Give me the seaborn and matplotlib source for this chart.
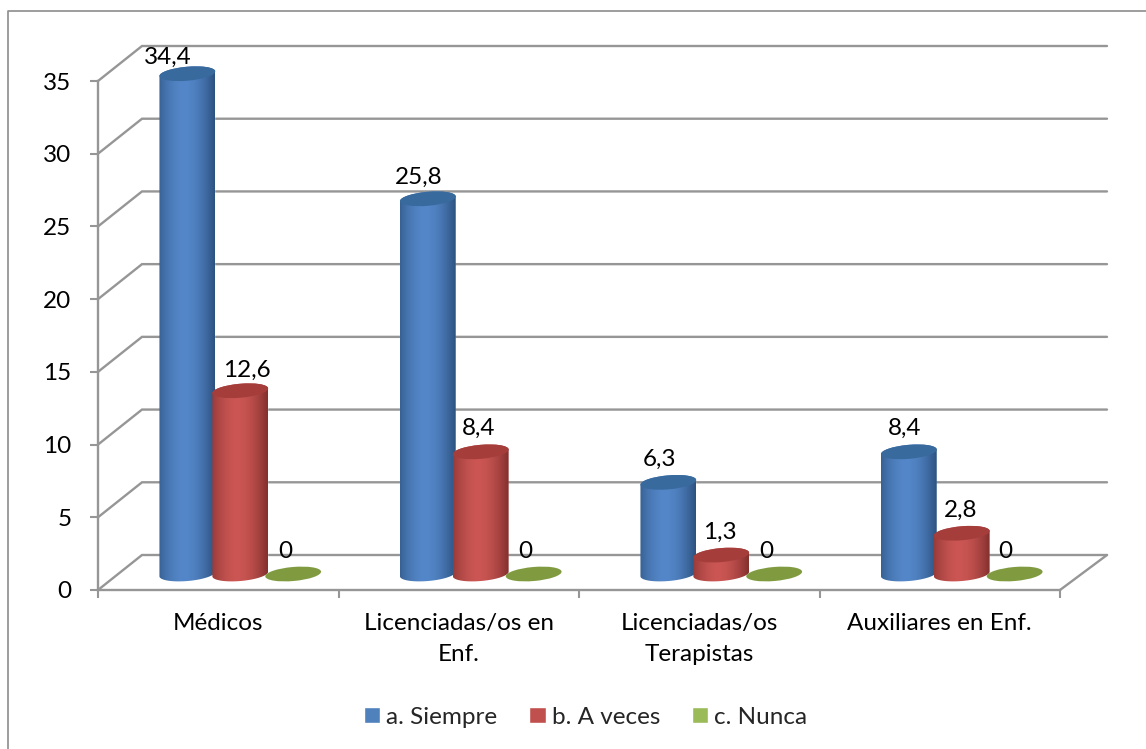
# Medical staff answers, 3D cylinder look built on a seaborn barplot

import numpy as np
import pandas as pd
import matplotlib.pyplot as plt
import seaborn as sns
from matplotlib.lines import Line2D
from matplotlib.patches import Ellipse
from matplotlib.path import Path
from matplotlib.transforms import Affine2D, IdentityTransform
from matplotlib.colors import to_rgb

categories = ["Médicos", "Licenciadas/os en\nEnf.", "Licenciadas/os\nTerapistas", "Auxiliares en Enf."]
series_names = ["a. Siempre", "b. A veces", "c. Nunca"]
siempre = [34.4, 25.8, 6.3, 8.4]
a_veces = [12.6, 8.4, 1.3, 2.8]
nunca = [0, 0, 0, 0]
y_ticks = [0, 5, 10, 15, 20, 25, 30, 35]

colors = ["#4F81BD", "#C0504D", "#9BBB59"]
edge_colors = ["#2C527F", "#82302E", "#7F9A3F"]
mid_colors = ["#5487C9", "#CB5653", "#7F9A3F"]
top_colors = ["#386A9E", "#A53E3B", "#7F9A3F"]
line_color = "#969696"

# pixel nudges for the data labels, (x, y) from the cylinder top
label_nudge = [
    [(-20, 16), (-9, 21), (-9, 23), (-4, 23)],
    [(7, 20), (-2, 23), (-1, 23), (-1, 23)],
    [(-8, 23), (-8, 23), (-8, 23), (-9, 23)],
]

sns.set_theme(style="white")
plt.rcParams["font.family"] = ["Lato", "DejaVu Sans"]

df = pd.DataFrame({
    "cat": categories * 3,
    "serie": np.repeat(series_names, 4),
    "valor": siempre + a_veces + nunca,
})

fig = plt.figure(figsize=(11.46, 7.49), dpi=100, facecolor="white")
ax = fig.add_axes([98 / 1146, (749 - 590) / 749, 962 / 1146, 509 / 749])

sns.barplot(data=df, x="cat", y="valor", hue="serie", order=categories, hue_order=series_names,
            palette=colors, width=0.66, gap=0, saturation=1, ax=ax, zorder=3)

ax.set_xlim(-0.5, 3.5)
ax.set_ylim(0, 35)
ax.set_autoscale_on(False)
ax.set_xlabel("")
ax.set_ylabel("")

# axes
for side in ["top", "right"]:
    ax.spines[side].set_visible(False)
for side in ["left", "bottom"]:
    ax.spines[side].set_color(line_color)
    ax.spines[side].set_linewidth(1.7)
ax.set_yticks(y_ticks)
ax.set_xticks([-0.5, 0.5, 1.5, 2.5, 3.5])
ax.set_xticklabels([])
ax.set_xticks([0, 1, 2, 3], categories, minor=True)
ax.tick_params(axis="x", which="major", length=5.5, width=1.5, color=line_color, bottom=True)
ax.tick_params(axis="x", which="minor", length=0, pad=16.5, labelsize=17.5, labelcolor="black")
ax.tick_params(axis="y", length=6, width=1.5, color=line_color, left=True, pad=13, labelsize=17.5, labelcolor="black")
for lab in ax.get_xticklabels(minor=True):
    lab.set_linespacing(1.6)

# back wall and depth lines
x0 = ax.transData.transform((-0.5, 0))[0]
x1 = ax.transData.transform((3.5, 0))[0]
for v in y_ticks:
    py = ax.transData.transform((0, v))[1]
    ax.plot([x0, x0 + 44, x1 + 47], [py, py + 35, py + 35], color=line_color, lw=1.7,
            transform=IdentityTransform(), clip_on=False, zorder=1, solid_joinstyle="miter")
py0 = ax.transData.transform((0, 0))[1]
ax.plot([x1, x1 + 47], [py0, py0 + 35], color=line_color, lw=1.7,
        transform=IdentityTransform(), clip_on=False, zorder=1)

# cylinders on top of the seaborn bars, moved back to the middle of the floor
lift = 16
shift = 22
half_w = 28
half_h = 7
tilt = 5
cos_t, sin_t = np.cos(np.radians(tilt)), np.sin(np.radians(tilt))


def arc(cx, cy, start, stop):
    t = np.radians(np.linspace(start, stop, 40))
    ex, ey = half_w * np.cos(t), half_h * np.sin(t)
    return np.column_stack([cx + ex * cos_t - ey * sin_t, cy + ex * sin_t + ey * cos_t])


for s, container in enumerate(ax.containers):
    edge = np.array(to_rgb(edge_colors[s]))
    mid = np.array(to_rgb(mid_colors[s]))
    for i, bar in enumerate(container):
        bar.set_transform(ax.transData + Affine2D().translate(shift, lift))
        bar.set_clip_on(False)
        val = bar.get_height()
        cx, ybase = ax.transData.transform((bar.get_x() + bar.get_width() / 2, 0))
        cx += shift
        ybase += lift
        ytop = ax.transData.transform((0, val))[1] + lift

        if val > 0:
            pos = np.abs(np.linspace(-1, 1, 120) + 0.1)
            mix = np.clip(pos / 1.1, 0, 1)[:, None] ** 1.8
            grad = (mid * (1 - mix) + edge * mix)[None, :, :]
            im = ax.imshow(grad, extent=(cx - half_w, cx + half_w, ybase - 11, ytop + 11), aspect="auto",
                           transform=IdentityTransform(), zorder=4 + s + i * 3)
            outline = np.vstack([arc(cx, ybase, 180, 360), arc(cx, ytop, 0, 180)])
            im.set_clip_box(fig.bbox)
            im.set_clip_path(Path(np.vstack([outline, outline[:1]]), closed=True), IdentityTransform())

        ax.add_patch(Ellipse((cx, ytop), half_w * 2, half_h * 2, angle=tilt, facecolor=top_colors[s],
                             edgecolor="none", transform=IdentityTransform(), clip_on=False,
                             zorder=4.5 + s + i * 3))

        txt = f"{val:.1f}".replace(".", ",") if val > 0 else "0"
        nx, ny = label_nudge[s][i]
        ax.text(cx + nx, ytop + ny, txt, transform=IdentityTransform(), ha="center", va="center",
                fontsize=17.5, color="black", zorder=30)

ax.set_xlim(-0.5, 3.5)
ax.set_ylim(0, 35)

# legend
sns.move_legend(ax, "center", bbox_to_anchor=(585.5 / 1146, (749 - 717) / 749),
                bbox_transform=fig.transFigure, ncol=3, title=None, frameon=False,
                fontsize=17.5, handlelength=0.68, handleheight=0.68, handletextpad=0.25,
                columnspacing=1.3, borderpad=0)

# chart frame, left and top only
fig.add_artist(Line2D([8 / 1146, 8 / 1146, 1], [0, (749 - 11) / 749, (749 - 11) / 749],
                      color="#8C8C8C", lw=1.2, transform=fig.transFigure))

fig.savefig("out.png", dpi=100, facecolor="white")
